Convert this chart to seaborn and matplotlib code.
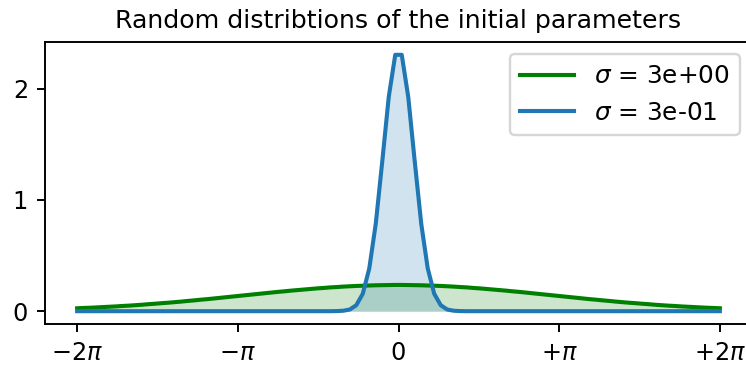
import numpy as np
import matplotlib
matplotlib.use("Agg")
import matplotlib.pyplot as plt
import seaborn as sns

# Sampling grid over [-2*pi, 2*pi]
x = np.linspace(-2 * np.pi, 2 * np.pi, 100)

# Density of the wide distribution (sigma = 3)
wide = [
    0.026, 0.029, 0.031, 0.034, 0.037, 0.040, 0.043, 0.047, 0.050, 0.054,
    0.058, 0.063, 0.067, 0.072, 0.076, 0.081, 0.086, 0.092, 0.097, 0.103,
    0.108, 0.114, 0.120, 0.126, 0.132, 0.138, 0.144, 0.150, 0.156, 0.162,
    0.168, 0.174, 0.179, 0.185, 0.190, 0.195, 0.200, 0.205, 0.209, 0.214,
    0.217, 0.221, 0.224, 0.227, 0.229, 0.231, 0.233, 0.234, 0.235, 0.236,
    0.236, 0.235, 0.234, 0.233, 0.231, 0.229, 0.227, 0.224, 0.221, 0.217,
    0.214, 0.209, 0.205, 0.200, 0.195, 0.190, 0.185, 0.179, 0.174, 0.168,
    0.162, 0.156, 0.150, 0.144, 0.138, 0.132, 0.126, 0.120, 0.114, 0.108,
    0.103, 0.097, 0.092, 0.086, 0.081, 0.076, 0.072, 0.067, 0.063, 0.058,
    0.054, 0.050, 0.047, 0.043, 0.040, 0.037, 0.034, 0.031, 0.029, 0.026,
]

# Density of the narrow distribution (sigma = 0.3)
narrow = [
    0.0, 0.0, 0.0, 0.0, 0.0, 0.0, 0.0, 0.0, 0.0, 0.0,
    0.0, 0.0, 0.0, 0.0, 0.0, 0.0, 0.0, 0.0, 0.0, 0.0,
    0.0, 0.0, 0.0, 0.0, 0.0, 0.0, 0.0, 0.0, 0.0, 0.0,
    0.0, 0.0, 0.0, 0.0, 0.0, 0.0, 0.0, 0.0, 0.0, 0.0,
    0.001, 0.004, 0.015, 0.054, 0.157, 0.385, 0.787, 1.347, 1.927, 2.305,
    2.305, 1.927, 1.347, 0.787, 0.385, 0.157, 0.054, 0.015, 0.004, 0.001,
    0.0, 0.0, 0.0, 0.0, 0.0, 0.0, 0.0, 0.0, 0.0, 0.0,
    0.0, 0.0, 0.0, 0.0, 0.0, 0.0, 0.0, 0.0, 0.0, 0.0,
    0.0, 0.0, 0.0, 0.0, 0.0, 0.0, 0.0, 0.0, 0.0, 0.0,
    0.0, 0.0, 0.0, 0.0, 0.0, 0.0, 0.0, 0.0, 0.0, 0.0,
]

labels = [r"$\sigma$ = 3e+00", r"$\sigma$ = 3e-01"]
colors = ["green", "#1f77b4"]

tick_pos = [-2 * np.pi, -np.pi, 0, np.pi, 2 * np.pi]
tick_labels = [r"$-2\pi$", r"$-\pi$", "0", r"$+\pi$", r"$+2\pi$"]

plt.rcParams["font.family"] = ["DejaVu Sans"]
plt.rcParams["mathtext.fontset"] = "dejavusans"

DPI = 173
fig = plt.figure(figsize=(747 / DPI, 366 / DPI), dpi=DPI)
ax = fig.add_axes([45 / 747, 42 / 366, 707 / 747, 282 / 366])

for ys, lab, col in zip([wide, narrow], labels, colors):
    sns.lineplot(x=x, y=ys, ax=ax, color=col, lw=1.7, label=lab)
    ax.fill_between(x, ys, color=col, alpha=0.2, lw=0)

ax.set_xticks(tick_pos)
ax.set_xticklabels(tick_labels)
ax.set_yticks([0, 1, 2])
ax.set_title("Random distribtions of the initial parameters", fontsize=10.5)
ax.legend(loc="upper right", fontsize=10.3, handlelength=2.2)

fig.savefig("out.png", dpi=DPI)
